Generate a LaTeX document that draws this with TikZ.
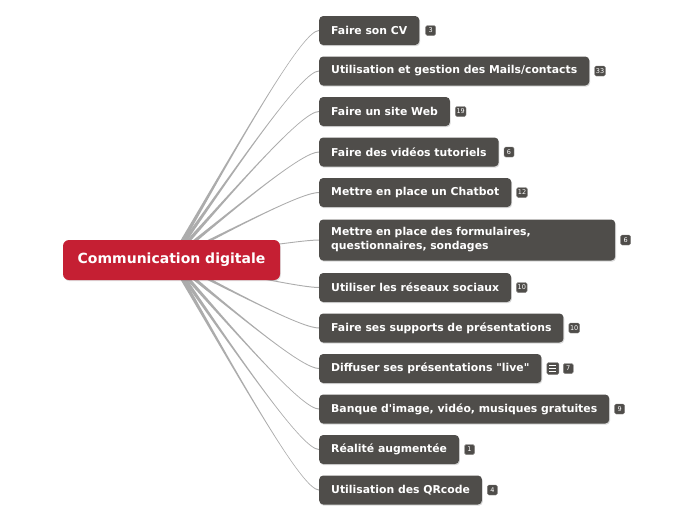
\documentclass[tikz,border=0pt]{standalone}
\usepackage{fontspec}
\setmainfont{DejaVu Sans}[Ligatures=TeXOff]
\usetikzlibrary{positioning,calc,backgrounds,shadows}
\definecolor{croot}{RGB}{197,31,51}
\definecolor{cnode}{RGB}{79,77,74}
\definecolor{cline}{RGB}{172,172,172}

\begin{document}
\begin{tikzpicture}[x=1pt,y=-1pt,
  % central idea and its twelve branches
  root/.style={fill=croot,text=white,rounded corners=6pt,minimum width=217pt,minimum height=40pt,
    font=\fontsize{14}{16}\selectfont\bfseries,
    drop shadow={shadow xshift=0.8pt,shadow yshift=-1.2pt,opacity=0.25}},
  topic/.style={fill=cnode,text=white,rounded corners=4pt,anchor=west,minimum height=29pt,
    inner xsep=12pt,font=\fontsize{10.85}{14}\selectfont\bfseries,
    drop shadow={shadow xshift=0.8pt,shadow yshift=-1.2pt,opacity=0.3}},
  badge/.style={fill=cnode,draw=cnode!70!white,line width=0.4pt,text=white,rounded corners=1.5pt,
    minimum width=10pt,minimum height=10pt,inner sep=1.2pt,font=\fontsize{6.5}{7}\selectfont},
]
\useasboundingbox (0,0) rectangle (696,520);

% =========== root ===========================================================
\node[root] (comm) at (171.5,260) {Communication digitale};

% =========== branches =======================================================
\node[topic] (cv)     at (319,30.5)  {Faire son CV};
\node[topic] (mail)   at (319,71)    {Utilisation et gestion des Mails/contacts};
\node[topic] (web)    at (319,111.5) {Faire un site Web};
\node[topic] (video)  at (319,152)   {Faire des vidéos tutoriels};
\node[topic] (chat)   at (319,192.5) {Mettre en place un Chatbot};
\node[topic,text width=272pt,align=left,minimum height=41pt] (form) at (319,240)
  {Mettre en place des formulaires,\\questionnaires, sondages};
\node[topic] (reseau) at (319,287.5) {Utiliser les réseaux sociaux};
\node[topic] (supp)   at (319,328)   {Faire ses supports de présentations};
\node[topic] (live)   at (319,368.5) {Diffuser ses présentations "live"};
\node[topic] (banque) at (319,409)   {Banque d'image, vidéo, musiques gratuites};
\node[topic] (ar)     at (319,449.5) {Réalité augmentée};
\node[topic] (qr)     at (319,490)   {Utilisation des QRcode};

% counters
\node[badge,right=6pt of cv]     {3};
\node[badge,right=5pt of mail]   {33};
\node[badge,right=5pt of web]    {19};
\node[badge,right=5pt of video]  {6};
\node[badge,right=5pt of chat]   {12};
\node[badge,right=5pt of form]   {6};
\node[badge,right=5pt of reseau] {10};
\node[badge,right=5pt of supp]   {10};
\node[badge,minimum width=12pt,minimum height=12pt,right=5pt of live] (livenote) {};
\foreach \d in {-3,0,3}
  \draw[white,line width=1pt] ($(livenote.center)+(-3.5,\d)$) -- ($(livenote.center)+(3.5,\d)$);
\node[badge,right=4pt of livenote] {7};
\node[badge,right=5pt of banque] {9};
\node[badge,right=5pt of ar]     {1};
\node[badge,right=5pt of qr]     {4};

% =========== tapered connectors, behind the root ============================
\begin{scope}[on background layer]
\foreach \t in {cv,mail,web,video,chat,form,reseau,supp,live,banque,ar,qr}{
  \path (comm.center) coordinate (o) (\t.west) coordinate (e) ($(e)+(-16,0)$) coordinate (c);
  \fill[cline] ($(o)!2.2pt!90:(c)$) .. controls ($(o)!0.6!(c)$) and ($(c)+(0,-0.5)$) .. ($(e)+(0,-0.5)$)
    -- ($(e)+(0,0.5)$) .. controls ($(c)+(0,0.5)$) and ($(o)!0.6!(c)$) .. ($(o)!2.2pt!-90:(c)$) -- cycle;
}
\end{scope}

\end{tikzpicture}
\end{document}
